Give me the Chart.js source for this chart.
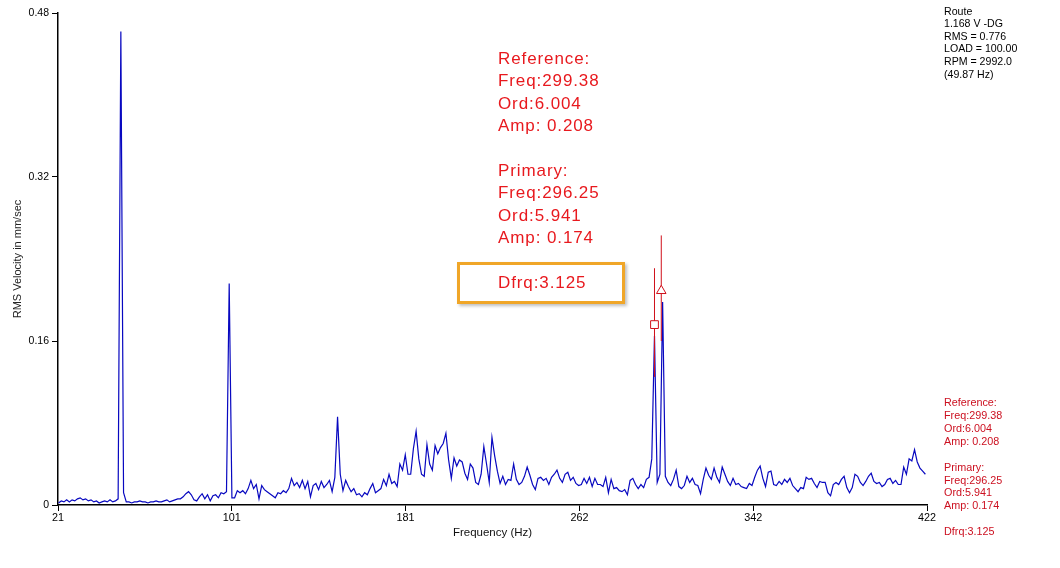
<!DOCTYPE html>
<html>
<head>
<meta charset="utf-8">
<script src="https://cdn.jsdelivr.net/npm/chart.js@4.4.1/dist/chart.umd.min.js"></script>
<style>
  html, body { margin: 0; padding: 0; background: #fff; }
  #wrap { position: relative; width: 1060px; height: 568px; font-family: "Liberation Sans", Arial, sans-serif; }
  #wrap canvas { position: absolute; left: 0; top: 0; }
  .note { position: absolute; white-space: pre; }
  .info { left: 944px; top: 4.7px; font-size: 10.6px; line-height: 12.6px; color: #000; }
  .cursorSmall { left: 944px; top: 395.8px; font-size: 10.8px; line-height: 12.95px; color: #cc1020; }
  .cursorBig { left: 498px; top: 48px; font-size: 17px; letter-spacing: 0.9px; line-height: 22.4px; color: #e8191e; }
  .hilite { position: absolute; left: 457px; top: 262px; width: 168px; height: 42px; box-sizing: border-box;
            border: 3px solid #f0a628; box-shadow: 2px 2px 3px rgba(0,0,0,0.25); }
</style>
</head>
<body>
<div id="wrap">
  <canvas id="spec" width="1060" height="568"></canvas>
  <div class="note info">Route
1.168 V -DG
RMS = 0.776
LOAD = 100.00
RPM = 2992.0
(49.87 Hz)</div>
  <div class="note cursorBig">Reference:
Freq:299.38
Ord:6.004
Amp: 0.208

Primary:
Freq:296.25
Ord:5.941
Amp: 0.174

Dfrq:3.125</div>
  <div class="hilite"></div>
  <div class="note cursorSmall">Reference:
Freq:299.38
Ord:6.004
Amp: 0.208

Primary:
Freq:296.25
Ord:5.941
Amp: 0.174

Dfrq:3.125</div>
</div>

<script>
// spectrum lines, 1.25 Hz apart starting at 21.25 Hz
const freqStart = 21.25;
const freqStep = 1.25;
const amps = [
  .002,.004,.003,.005,.003,.005,.004,.006,.007,.005,
  .006,.004,.005,.003,.004,.002,.003,.004,.003,.005,
  .003,.004,.006,.462,.012,.003,.003,.002,.003,.003,
  .004,.003,.003,.002,.003,.003,.004,.003,.003,.004,
  .005,.003,.004,.005,.006,.006,.008,.011,.013,.010,
  .005,.004,.008,.011,.006,.010,.004,.009,.010,.007,
  .012,.011,.013,.216,.007,.007,.014,.012,.014,.011,
  .016,.024,.016,.020,.006,.019,.015,.013,.011,.009,
  .007,.012,.011,.014,.012,.016,.026,.019,.022,.017,
  .024,.016,.023,.008,.019,.021,.015,.023,.017,.020,
  .024,.013,.027,.086,.030,.014,.024,.018,.013,.016,
  .010,.011,.008,.012,.010,.016,.021,.012,.014,.016,
  .025,.019,.030,.021,.023,.018,.040,.034,.049,.030,
  .030,.055,.072,.045,.030,.028,.059,.040,.034,.058,
  .050,.056,.060,.070,.044,.026,.046,.038,.044,.042,
  .031,.025,.040,.036,.022,.020,.030,.057,.040,.022,
  .066,.048,.033,.021,.028,.020,.025,.024,.040,.025,
  .020,.022,.028,.037,.029,.020,.015,.026,.027,.024,
  .026,.020,.027,.030,.034,.026,.022,.030,.032,.024,
  .027,.021,.019,.020,.026,.021,.027,.018,.026,.020,
  .020,.018,.027,.012,.025,.016,.017,.014,.013,.015,
  .010,.024,.026,.020,.016,.020,.017,.025,.027,.045,
  .165,.022,.030,.198,.028,.022,.019,.025,.034,.018,
  .016,.019,.028,.022,.026,.020,.019,.011,.025,.036,
  .029,.025,.036,.027,.022,.037,.030,.023,.019,.026,
  .020,.021,.018,.017,.016,.021,.019,.027,.034,.038,
  .026,.018,.032,.033,.020,.019,.023,.020,.025,.022,
  .026,.019,.016,.013,.017,.016,.027,.025,.026,.021,
  .017,.023,.022,.022,.012,.009,.020,.022,.020,.025,
  .028,.017,.012,.017,.030,.028,.022,.019,.023,.028,
  .031,.023,.021,.022,.018,.020,.025,.026,.021,.024,
  .020,.020,.037,.030,.045,.043,.054,.042,.036,.033,.030
];

// cursors: primary (square) and reference (triangle)
const cursorFreqs = [296.25, 299.38];
const cursorAmps = [0.176, 0.209];
const cursorLineLow = [0.125, 0.16];
const cursorLineHigh = [0.231, 0.263];

const xTicks = [21, 101.2, 181.4, 261.6, 341.8, 422];
const yTicks = [0, 0.16, 0.32, 0.48];

const spectrum = amps.map((a, i) => ({ x: freqStart + i * freqStep, y: a }));
const red = '#d0101a';
const fontFam = '"Liberation Sans", Arial, sans-serif';

new Chart(document.getElementById('spec').getContext('2d'), {
  type: 'line',
  data: {
    datasets: [
      {
        data: [{ x: cursorFreqs[0], y: cursorAmps[0] }],
        showLine: false, pointStyle: 'rect', pointRadius: 5.5,
        pointBorderColor: red, pointBackgroundColor: '#fff', pointBorderWidth: 1, order: 1
      },
      {
        data: [{ x: cursorFreqs[1], y: cursorAmps[1] }],
        showLine: false, pointStyle: 'triangle', pointRadius: 5.5,
        pointBorderColor: red, pointBackgroundColor: '#fff', pointBorderWidth: 1, order: 1
      },
      {
        data: [{ x: cursorFreqs[0], y: cursorLineLow[0] }, { x: cursorFreqs[0], y: cursorLineHigh[0] }],
        borderColor: red, borderWidth: 1, pointRadius: 0, order: 2
      },
      {
        data: [{ x: cursorFreqs[1], y: cursorLineLow[1] }, { x: cursorFreqs[1], y: cursorLineHigh[1] }],
        borderColor: red, borderWidth: 1, pointRadius: 0, order: 2
      },
      {
        data: spectrum,
        borderColor: '#0808c0', borderWidth: 1.2, pointRadius: 0, tension: 0, order: 3
      }
    ]
  },
  options: {
    responsive: false,
    animation: false,
    devicePixelRatio: 1,
    layout: { padding: { top: 13, right: 133, bottom: 0, left: 0 } },
    plugins: { legend: { display: false }, tooltip: { enabled: false } },
    scales: {
      x: {
        type: 'linear', min: 21, max: 422,
        afterBuildTicks: s => { s.ticks = xTicks.map(v => ({ value: v })); },
        afterFit: s => { s.height = 63; },
        ticks: {
          autoSkip: false, maxRotation: 0, padding: 1, color: '#000',
          font: { family: fontFam, size: 10.8 },
          callback: v => String(Math.round(v))
        },
        grid: { drawOnChartArea: false, drawTicks: true, tickLength: 6, color: '#000' },
        border: { display: true, color: '#000', width: 1.5 },
        title: {
          display: true, text: 'Frequency (Hz)', color: '#111',
          font: { family: fontFam, size: 11.5 }, padding: { top: 0, bottom: 28 }
        }
      },
      y: {
        type: 'linear', min: 0, max: 0.48,
        afterBuildTicks: s => { s.ticks = yTicks.map(v => ({ value: v })); },
        afterFit: s => { s.width = 58; },
        ticks: {
          padding: 3, color: '#000',
          font: { family: fontFam, size: 10.5 },
          callback: v => v === 0 ? '0' : v.toFixed(2)
        },
        grid: { drawOnChartArea: false, drawTicks: true, tickLength: 6, color: '#000' },
        border: { display: true, color: '#000', width: 1.5 },
        title: {
          display: true, text: 'RMS Velocity in mm/sec', color: '#222',
          font: { family: fontFam, size: 11 }, padding: { top: 11, bottom: 0 }
        }
      }
    }
  }
});
</script>
</body>
</html>
